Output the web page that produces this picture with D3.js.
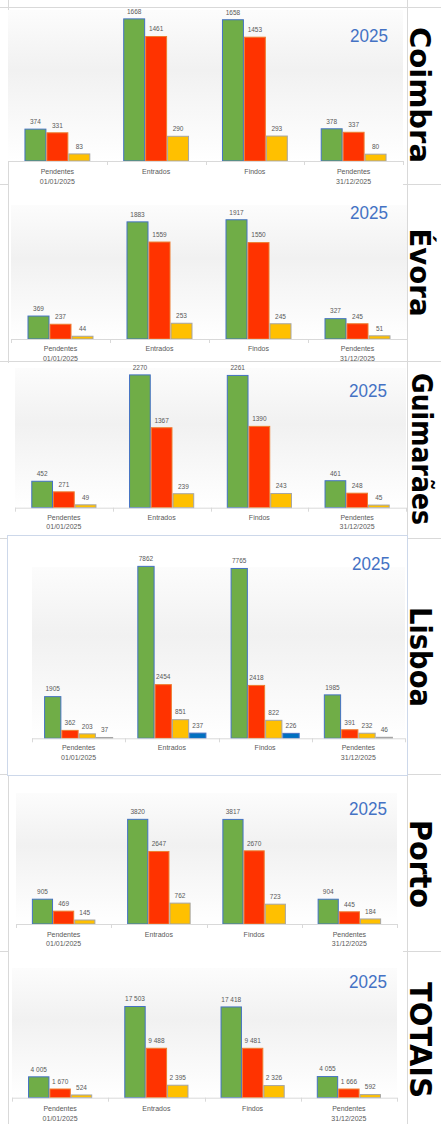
<!DOCTYPE html>
<html><head><meta charset="utf-8">
<script src="https://cdn.jsdelivr.net/npm/d3@7"></script>
<style>body{margin:0;background:#fff}svg{display:block}</style>
</head><body>
<svg id="c" width="441" height="1124"></svg>
<script>
// ---------- DATA ----------
const categories = [["Pendentes","01/01/2025"],["Entrados"],["Findos"],["Pendentes","31/12/2025"]];
const yearText = "2025";

const coimbraVerde    = [374, 1668, 1658, 378];
const coimbraVermelho = [331, 1461, 1453, 337];
const coimbraAmarelo  = [83, 290, 293, 80];

const evoraVerde    = [369, 1883, 1917, 327];
const evoraVermelho = [237, 1559, 1550, 245];
const evoraAmarelo  = [44, 253, 245, 51];

const guimaraesVerde    = [452, 2270, 2261, 461];
const guimaraesVermelho = [271, 1367, 1390, 248];
const guimaraesAmarelo  = [49, 239, 243, 45];

const lisboaVerde    = [1905, 7862, 7765, 1985];
const lisboaVermelho = [362, 2454, 2418, 391];
const lisboaAmarelo  = [203, 851, 822, 232];
const lisboaQuarto   = [37, 237, 226, 46];

const portoVerde    = [905, 3820, 3817, 904];
const portoVermelho = [469, 2647, 2670, 445];
const portoAmarelo  = [145, 762, 723, 184];

const totaisVerde    = [4005, 17503, 17418, 4055];
const totaisVermelho = [1670, 9488, 9481, 1666];
const totaisAmarelo  = [524, 2395, 2326, 592];

// ---------- STYLE / LAYOUT ----------
const greenStyle  = {fill:"#70AD47", stroke:"#4472C4"};
const redStyle    = {fill:"#FF3300", stroke:"#ED7D31"};
const yellowStyle = {fill:"#FFC000", stroke:"#A5A5A5"};
const greyStyle   = {fill:"#A5A5A5", stroke:"#A5A5A5"};
const blueStyle   = {fill:"#0070C0", stroke:"#4472C4"};
const fourthStyles = [greyStyle, blueStyle, blueStyle, greyStyle];

const std = [greenStyle, redStyle, yellowStyle];
const panels = [
  {name:"Coimbra", series:[coimbraVerde, coimbraVermelho, coimbraAmarelo], styles:[std[0],std[1],std[2]],
   chart:[9,8,394,178], x0:8, x1:403, base:161, top:10, ppu:0.0852, gap:0.5,
   catY:[173.5,183.5], year:[369,42], label:[95,136,28,410]},
  {name:"Évora", series:[evoraVerde, evoraVermelho, evoraAmarelo], styles:[std[0],std[1],std[2]],
   chart:[11,186,395,174], x0:11, x1:407, base:339, top:205, ppu:0.0622, gap:0.5,
   catY:[350.5,360.5], year:[369,218.5], label:[272.5,88,28,410]},
  {name:"Guimarães", series:[guimaraesVerde, guimaraesVermelho, guimaraesAmarelo], styles:[std[0],std[1],std[2]],
   chart:[8,363,398,173], x0:15, x1:406, base:507.7, top:368, ppu:0.0585, gap:0.5,
   catY:[519.5,528.5], year:[368,397], label:[449,152,28,412]},
  {name:"Lisboa", series:[lisboaVerde, lisboaVermelho, lisboaAmarelo, lisboaQuarto], styles:[std[0],std[1],std[2],fourthStyles],
   chart:[7.5,535.5,400,240], border:true, x0:32, x1:405, base:738.3, top:567, ppu:0.02187, gap:0.35,
   catY:[749.5,759.5], year:[371,570], label:[657,100,30,410]},
  {name:"Porto", series:[portoVerde, portoVermelho, portoAmarelo], styles:[std[0],std[1],std[2]],
   chart:[9,777,394,176], x0:16, x1:397, base:924, top:793, ppu:0.0274, gap:0.5,
   catY:[936.5,945.5], year:[368,815], label:[864,88,31,410]},
  {name:"TOTAIS", series:[totaisVerde, totaisVermelho, totaisAmarelo], styles:[std[0],std[1],std[2]],
   chart:[9,953,394,171], x0:12, x1:397, base:1097.7, top:968, ppu:0.00521, gap:0.5, spaced:true,
   catY:[1110.5,1120.5], year:[368,988], label:[1040,116,31,410]}
];

const fmtPlain = d3.format("d");
const fmtSpace = d3.formatLocale({decimal:",", thousands:" ", grouping:[3], currency:["","€"]}).format(",d");

const svg = d3.select("#c");
const defs = svg.append("defs");
const grad = defs.append("linearGradient").attr("id","pg").attr("x1",0).attr("y1",0).attr("x2",0).attr("y2",1);
grad.append("stop").attr("offset","0%").attr("stop-color","#fcfcfc");
grad.append("stop").attr("offset","40%").attr("stop-color","#f1f1f1");
grad.append("stop").attr("offset","100%").attr("stop-color","#ffffff");

// ---------- Excel sheet gridlines ----------
const grid = svg.append("g").attr("stroke","#d9d9d9").attr("stroke-width",1).attr("shape-rendering","crispEdges");
[7,184,361,538,774,951].forEach(y => grid.append("line").attr("x1",0).attr("x2",441).attr("y1",y+0.5).attr("y2",y+0.5));
[8, 407].forEach(x => grid.append("line").attr("x1",x+0.5).attr("x2",x+0.5).attr("y1",0).attr("y2",1124));

// ---------- Panels ----------
panels.forEach(p => {
  const g = svg.append("g");
  const [cx, cy, cw, ch] = p.chart;
  g.append("rect").attr("x",cx).attr("y",cy).attr("width",cw).attr("height",ch)
    .attr("fill","#fff").attr("stroke", p.border ? "#cdd8ea" : "none").attr("stroke-width",1);

  const yMax = (p.base - p.top) / p.ppu;
  const y = d3.scaleLinear().domain([0, yMax]).range([p.base, p.top]);
  const x = d3.scaleBand().domain(d3.range(categories.length)).range([p.x0, p.x1]).padding(0);
  const bw = x.bandwidth();
  const groupW = bw / (1 + p.gap);
  const xs = d3.scaleBand().domain(d3.range(p.series.length)).range([(bw-groupW)/2, (bw+groupW)/2]).padding(0);

  // plot area gradient
  g.append("rect").attr("x",p.x0).attr("y",p.top).attr("width",p.x1-p.x0).attr("height",p.base-p.top).attr("fill","url(#pg)");

  const fmt = p.spaced ? fmtSpace : fmtPlain;

  p.series.forEach((vals, si) => {
    const st = p.styles[si];
    vals.forEach((v, ci) => {
      const s = Array.isArray(st) ? st[ci] : st;
      const bx = x(ci) + xs(si);
      g.append("rect")
        .attr("x", bx + 0.5).attr("y", y(v))
        .attr("width", xs.bandwidth() - 1).attr("height", p.base - y(v))
        .attr("fill", s.fill).attr("stroke", s.stroke).attr("stroke-width", 1);
      g.append("text")
        .attr("x", bx + xs.bandwidth()/2).attr("y", y(v) - 5.2)
        .attr("text-anchor","middle").attr("font-family","Liberation Sans, Arial, sans-serif")
        .attr("font-size", 6.5).attr("fill","#595959").text(fmt(v));
    });
  });

  // category axis
  g.append("line").attr("x1",p.x0).attr("x2",p.x1).attr("y1",p.base+0.5).attr("y2",p.base+0.5)
    .attr("stroke","#d9d9d9").attr("stroke-width",1);
  d3.range(categories.length+1).forEach(i => {
    const tx = Math.round(p.x0 + i*bw) + 0.5;
    g.append("line").attr("x1",tx).attr("x2",tx).attr("y1",p.base).attr("y2",p.base+4)
      .attr("stroke","#d9d9d9").attr("stroke-width",1);
  });
  categories.forEach((lines, ci) => {
    lines.forEach((t, li) => {
      g.append("text").attr("x", x(ci) + bw/2).attr("y", p.catY[li])
        .attr("text-anchor","middle").attr("font-family","Liberation Sans, Arial, sans-serif")
        .attr("font-size", 7).attr("fill","#595959").text(t);
    });
  });

  // year
  g.append("text").attr("x", p.year[0]).attr("y", p.year[1]).attr("text-anchor","middle")
    .attr("font-family","Liberation Sans, Arial, sans-serif").attr("font-size",18.5)
    .attr("fill","#4472C4").attr("textLength",38).attr("lengthAdjust","spacingAndGlyphs").text(yearText);

  // vertical region label
  const [ly, llen, lfs, lx] = p.label;
  svg.append("text").attr("transform", `translate(${lx},${ly}) rotate(90)`)
    .attr("text-anchor","middle").attr("font-family","DejaVu Sans, sans-serif").attr("font-weight","bold")
    .attr("font-size", lfs).attr("fill","#000")
    .attr("textLength", llen).attr("lengthAdjust","spacingAndGlyphs").text(p.name);
});
</script>
</body></html>
